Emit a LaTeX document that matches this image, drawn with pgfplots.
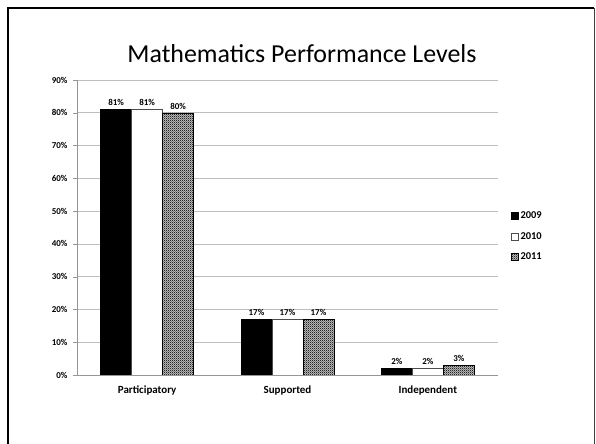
\documentclass[border=0pt]{standalone}
\usepackage{fontspec}
\setmainfont{Carlito}
\usepackage{pgfplots}
\pgfplotsset{compat=1.18}
\usetikzlibrary{patterns}

% fine checkerboard used for the 2011 series
\pgfdeclarepatternformonly{checker}{\pgfpointorigin}{\pgfpoint{2.2pt}{2.2pt}}{\pgfpoint{2.2pt}{2.2pt}}{%
  \pgfpathrectangle{\pgfpointorigin}{\pgfpoint{1.1pt}{1.1pt}}%
  \pgfpathrectangle{\pgfpoint{1.1pt}{1.1pt}}{\pgfpoint{1.1pt}{1.1pt}}%
  \pgfusepath{fill}}

\definecolor{gridgray}{RGB}{190,190,190}
\definecolor{axisgray}{RGB}{150,150,150}

\begin{document}
\begin{tikzpicture}
\useasboundingbox (0bp,0bp) rectangle (596bp,444bp);
\fill[white] (0bp,0bp) rectangle (596bp,444bp);
% slide frame
\draw[black,line width=2.6bp] (7.8bp,-5bp) -- (7.8bp,435.8bp) -- (594bp,435.8bp);
\draw[black!75,line width=1.4bp] (594.3bp,435.8bp) -- (594.3bp,-5bp);

\node[font=\fontsize{26}{30}\selectfont, anchor=base] at (302bp,381bp) {Mathematics Performance Levels};

\begin{axis}[
  at={(77bp,69bp)}, anchor=south west,
  scale only axis, width=421bp, height=295bp,
  ybar=0pt, bar width=31bp,
  xmin=-0.5, xmax=2.5, ymin=0, ymax=90,
  xtick={0,1,2},
  xticklabels={Participatory,Supported,Independent},
  major x tick style={draw=none},
  extra x ticks={0.5,1.5,2.5},
  extra x tick labels={},
  extra x tick style={major tick length=4bp, tick style={draw=axisgray}, grid=none},
  ytick={0,10,...,90},
  yticklabel={\pgfmathprintnumber{\tick}\%},
  /pgf/number format/assume math mode=true,
  tick align=outside, major tick length=4bp,
  ymajorgrids, grid style={gridgray, line width=0.6bp},
  axis x line*=bottom, axis y line*=left,
  axis line style={axisgray, line width=0.6bp},
  y tick style={axisgray},
  yticklabel style={font=\bfseries\fontsize{9}{10}\selectfont, xshift=-2bp},
  xticklabel style={font=\bfseries\fontsize{11}{12}\selectfont, yshift=-3bp},
  nodes near coords={\pgfmathprintnumber{\pgfplotspointmeta}\%},
  nodes near coords style={font=\bfseries\fontsize{9}{10}\selectfont, /pgf/number format/assume math mode=true, yshift=0bp},
  legend style={at={(1,0.47)}, anchor=west, xshift=10bp, draw=none, fill=none,
    font=\bfseries\fontsize{10.5}{11}\selectfont, row sep=8bp,
    /tikz/every even column/.append style={column sep=1bp}},
  legend image code/.code={\draw[#1,line width=0.4bp] (0bp,-3.5bp) rectangle (7bp,3.5bp);},
]
\addplot[draw=black, fill=black] coordinates {(0,81) (1,17) (2,2)};
\addplot[draw=black!70, fill=white] coordinates {(0,81) (1,17) (2,2)};
\addplot[draw=black, fill=black!25, postaction={pattern=checker, pattern color=black!85}] coordinates {(0,80) (1,17) (2,3)};
\legend{2009,2010,2011}
\end{axis}
\end{tikzpicture}
\end{document}
